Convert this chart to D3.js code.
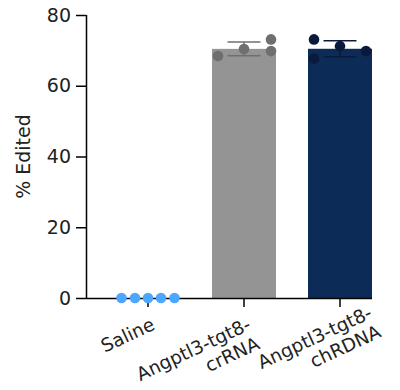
<!DOCTYPE html>
<html>
<head>
<meta charset="utf-8">
<script src="https://cdn.jsdelivr.net/npm/d3@7"></script>
<style>
  html, body { margin: 0; padding: 0; background: #fff; }
  svg { display: block; font-family: "DejaVu Sans", sans-serif; }
</style>
</head>
<body>
<svg id="chart" width="400" height="390"></svg>
<script>
// Groups and individual measurements (% edited)
const groups = ["Saline", "Angptl3-tgt8-crRNA", "Angptl3-tgt8-chRDNA"];
const groupLines = [["Saline"], ["Angptl3-tgt8-", "crRNA"], ["Angptl3-tgt8-", "chRDNA"]];
const salineValues = [0, 0, 0, 0, 0];
const crRNAValues = [68.4, 70.4, 73.1, 69.8];
const chRDNAValues = [73.1, 67.7, 71.2, 69.8];
const yTicks = [0, 20, 40, 60, 80];

const barColors = ["#4da6ff", "#949494", "#0c2b57"];
const dotColors = ["#4da6ff", "#6f6f6f", "#0a1a3c"];
// horizontal spread of each dot inside its column (px)
const spread = [[-26.5, -13, 0, 13, 26.5], [-26, 0, 27, 27], [-26, -26, 0, 26]];
// slide of each rotated label along its own baseline (px)
const labelSlide = [0, 0, 28];

const series = [salineValues, crRNAValues, chRDNAValues];

const svg = d3.select("#chart");
const axisLeftX = 86;

const x = d3.scaleBand()
  .domain(groups)
  .range([116, 372])
  .paddingInner(1 / 3)
  .paddingOuter(0);

const y = d3.scaleLinear().domain([0, 80]).range([298, 15]);

const stats = series.map(v => ({
  mean: d3.mean(v),
  sd: v.length > 1 ? d3.deviation(v) : 0
}));

// bars at group means
svg.append("g").selectAll("rect")
  .data(groups)
  .join("rect")
  .attr("x", d => x(d))
  .attr("width", x.bandwidth())
  .attr("y", (d, i) => y(stats[i].mean))
  .attr("height", (d, i) => y(0) - y(stats[i].mean))
  .attr("fill", (d, i) => barColors[i]);

// mean ± SD error bars
const eb = svg.append("g");
groups.forEach((g, i) => {
  if (stats[i].sd === 0) return;
  const cx = x(g) + x.bandwidth() / 2;
  const hi = y(stats[i].mean + stats[i].sd), lo = y(stats[i].mean - stats[i].sd);
  const col = dotColors[i];
  eb.append("line").attr("x1", cx).attr("x2", cx).attr("y1", hi).attr("y2", lo)
    .attr("stroke", col).attr("stroke-width", 1.5);
  [hi, lo].forEach(yy => eb.append("line")
    .attr("x1", cx - 16.5).attr("x2", cx + 16.5).attr("y1", yy).attr("y2", yy)
    .attr("stroke", col).attr("stroke-width", 1.5));
});

// x axis
const xAxis = svg.append("g")
  .attr("transform", `translate(0,${y(0)})`)
  .call(d3.axisBottom(x).tickSize(9).tickFormat(""));
xAxis.select(".domain").attr("d", `M${axisLeftX},0.5H${x.range()[1]}`)
  .attr("stroke", "#000").attr("stroke-width", 1.5);
xAxis.selectAll(".tick line").attr("stroke", "#000").attr("stroke-width", 1.5);

// category labels, rotated
const lab = svg.append("g");
groups.forEach((g, i) => {
  const cx = x(g) + x.bandwidth() / 2;
  const t = lab.append("text")
    .attr("transform", `translate(${cx + 8},${y(0) + 31}) rotate(-25) translate(${labelSlide[i]},0)`)
    .attr("text-anchor", "end")
    .attr("font-size", 18.5)
    .attr("fill", "#222");
  groupLines[i].forEach((s, k) => t.append("tspan").attr("x", 0).attr("dy", k === 0 ? 0 : 21).text(s));
});

// y axis
const yAxis = svg.append("g")
  .attr("transform", `translate(${axisLeftX},0)`)
  .call(d3.axisLeft(y).tickValues(yTicks).tickSize(10).tickPadding(5));
yAxis.select(".domain").attr("d", `M0.5,${y(80)}V${y(0)}`).attr("stroke", "#000").attr("stroke-width", 1.5);
yAxis.selectAll(".tick line").attr("stroke", "#000").attr("stroke-width", 1.5);
yAxis.selectAll(".tick text").attr("font-size", 19).attr("fill", "#222")
  .attr("font-family", "'DejaVu Sans', sans-serif");

svg.append("text")
  .attr("transform", `translate(30,${(y(0) + y(80)) / 2}) rotate(-90)`)
  .attr("text-anchor", "middle")
  .attr("font-size", 19)
  .attr("fill", "#222")
  .text("% Edited");

// individual points
const pts = svg.append("g");
series.forEach((vals, i) => {
  const cx = x(groups[i]) + x.bandwidth() / 2;
  pts.selectAll(null).data(vals).join("circle")
    .attr("cx", (d, k) => cx + spread[i][k])
    .attr("cy", d => y(d))
    .attr("r", 5.3)
    .attr("fill", dotColors[i]);
});
</script>
</body>
</html>
